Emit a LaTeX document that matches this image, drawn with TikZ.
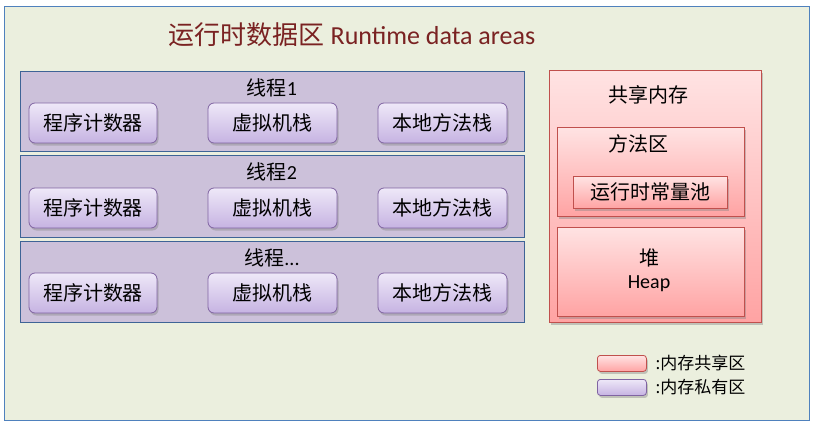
\documentclass[tikz,border=0pt]{standalone}
\usepackage{fontspec}
\setmainfont{Carlito}
\newfontfamily\cjk{Noto Sans CJK SC}
\usetikzlibrary{shadows}
\definecolor{bgfill}{HTML}{EBEFDE}
\definecolor{bgborder}{HTML}{4F81BD}
\definecolor{thrfill}{HTML}{CCC1DA}
\definecolor{thrborder}{HTML}{3E6496}
\definecolor{purtop}{HTML}{EEE8F8}
\definecolor{purbot}{HTML}{C6B3E2}
\definecolor{purborder}{HTML}{8064A2}
\definecolor{pinktop}{HTML}{FFE3E3}
\definecolor{pinkbot}{HTML}{FFA3A3}
\definecolor{pinkborder}{HTML}{C0504D}
\definecolor{titlered}{HTML}{7A2222}
\def\threedots{...}
\tikzset{
  thread/.style={draw=thrborder, fill=thrfill, line width=0.8pt},
  btn/.style={draw=purborder, rounded corners=6pt, top color=purtop, bottom color=purbot, line width=0.8pt,
    drop shadow={shadow xshift=1.5pt, shadow yshift=-2.5pt, opacity=0.4}},
  pinkbox/.style={draw=pinkborder, top color=pinktop, bottom color=pinkbot, line width=0.8pt,
    drop shadow={shadow xshift=1.5pt, shadow yshift=-2.5pt, opacity=0.4}},
  pinkbtn/.style={pinkbox, rounded corners=3pt},
  purbtn/.style={btn, rounded corners=3pt},
  lbl/.style={font=\fontsize{20}{24}\selectfont\cjk, text=black},
}
\begin{document}
\begin{tikzpicture}[x=1pt, y=-1pt]
\useasboundingbox (0,0) rectangle (815,428);
\node[draw=bgborder, fill=bgfill, line width=0.8pt, minimum width=805pt, minimum height=414pt, anchor=north west, inner sep=0] (outer) at (4,6) {};
\node[text=titlered, anchor=center] (title) at (352,35) {\fontsize{26}{30}\selectfont{\cjk 运行时数据区} Runtime data areas};
% threads
\foreach \i/\ytop/\ybot/\lab/\by in {1/71/151/1/123, 2/155/237/2/208, 3/241/322/\threedots/293}{
  \node[thread, anchor=north west, minimum width=504pt, minimum height={\ybot-\ytop}, inner sep=0] (t\i) at (20,\ytop) {};
  \node[lbl] (tl\i) at (272,{\ytop+17}) {线程\fontspec{Carlito}\lab};
  \node[btn, lbl, minimum width=128pt, minimum height=40pt, inner sep=0] (pc\i) at (93,\by) {程序计数器};
  \node[btn, lbl, minimum width=129pt, minimum height=40pt, inner sep=0] (vm\i) at (272.5,\by) {虚拟机栈};
  \node[btn, lbl, minimum width=129pt, minimum height=40pt, inner sep=0] (nm\i) at (442.5,\by) {本地方法栈};
}
% shared memory
\node[pinkbox, anchor=north west, minimum width=212pt, minimum height=252pt, inner sep=0] (shared) at (549,70) {};
\node[lbl] (sharedlbl) at (648,95) {共享内存};
\node[pinkbox, anchor=north west, minimum width=187pt, minimum height=89pt, inner sep=0] (method) at (557,127) {};
\node[lbl] (methodlbl) at (638,144) {方法区};
\node[pinkbox, lbl, anchor=north west, minimum width=154pt, minimum height=32pt, inner sep=0] (pool) at (573,176) {运行时常量池};
\node[pinkbox, anchor=north west, minimum width=187pt, minimum height=89pt, inner sep=0] (heap) at (557,227) {};
\node[lbl] (heaplbl) at (649,258) {堆};
\node[font=\fontsize{20}{24}\selectfont] (heapen) at (649,284) {Heap};
% legend
\node[pinkbtn, anchor=north west, minimum width=49pt, minimum height=16pt, inner sep=0] (legpink) at (597,355) {};
\node[purbtn, anchor=north west, minimum width=49pt, minimum height=16pt, inner sep=0] (legpur) at (597,379) {};
\node[lbl, font=\fontsize{17}{20}\selectfont\cjk, anchor=west] (legpinklbl) at (652,363) {:内存共享区};
\node[lbl, font=\fontsize{17}{20}\selectfont\cjk, anchor=west] (legpurlbl) at (652,387) {:内存私有区};
\end{tikzpicture}
\end{document}
